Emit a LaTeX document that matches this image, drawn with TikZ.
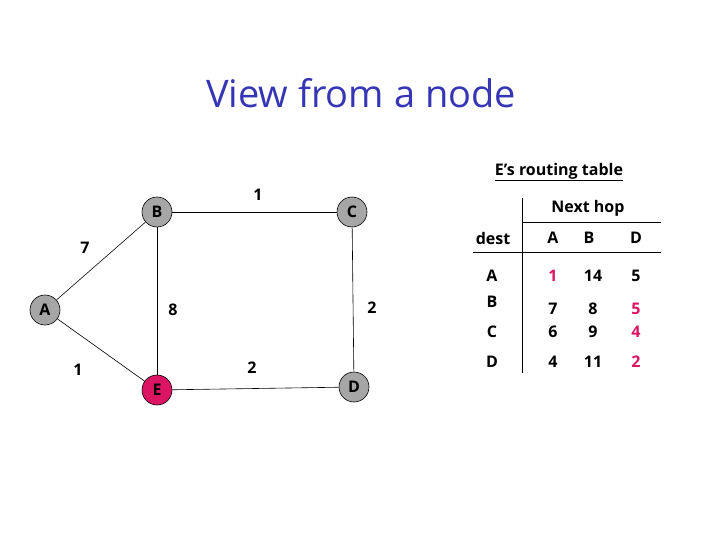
\documentclass[tikz,border=0pt]{standalone}
\usepackage{fontspec}
\setmainfont{Open Sans}
\begin{document}
\begin{tikzpicture}[x=1pt,y=-1pt,
  vert/.style={circle,draw=black,line width=0.6pt,fill=nodegrey,minimum size=30pt,inner sep=0pt,font=\fontsize{16}{18}\selectfont\bfseries},
  wlab/.style={font=\fontsize{16}{18}\selectfont\bfseries},
  tab/.style={font=\fontsize{16}{18}\selectfont\bfseries,anchor=center},
  hot/.style={tab,text=hotred},
  link/.style={line width=0.6pt}]
\definecolor{nodegrey}{HTML}{A6A6A6}
\definecolor{hotred}{HTML}{DC1464}
\definecolor{titleblue}{HTML}{3535B5}
\useasboundingbox (0,0) rectangle (720,540);
\node[text=titleblue,font=\fontsize{38}{44}\selectfont] (title) at (361,93) {View from a node};
% graph
\node[vert] (B) at (157,212) {B};
\node[vert] (C) at (352,212) {C};
\node[vert] (A) at (45,310) {A};
\node[vert,fill=hotred] (E) at (157,390) {E};
\node[vert] (D) at (354,387) {D};
\draw[link] (B) -- (C);
\draw[link] (C) -- (D);
\draw[link] (A) -- (B);
\draw[link] (A) -- (E);
\draw[link] (B) -- (E);
\draw[link] (E) -- (D);
\node[wlab] (w1) at (258,195) {1};
\node[wlab] (w7) at (85,248) {7};
\node[wlab] (w8) at (173,310) {8};
\node[wlab] (w2r) at (372,308) {2};
\node[wlab] (w1b) at (78,370) {1};
\node[wlab] (w2b) at (252,368) {2};
% table
\node[tab] (ttl) at (559,172) {\underline{E’s routing table}};
\node[tab] (nh) at (588,208) {Next hop};
\coordinate (vt) at (522,198);
\coordinate (vb) at (522,373);
\coordinate (h1l) at (522,222);
\coordinate (h1r) at (661,222);
\coordinate (h2l) at (473,252);
\coordinate (h2r) at (661,252);
\draw[link] (vt) -- (vb);
\draw[link] (h1l) -- (h1r);
\draw[link] (h2l) -- (h2r);
\node[tab] (dest) at (493,238) {dest};
\node[tab] (hA) at (553,238) {A};
\node[tab] (hB) at (589,238) {B};
\node[tab] (hD) at (636,238) {D};
\node[tab] (rA) at (492,276) {A};
\node[tab] (rB) at (492,302) {B};
\node[tab] (rC) at (492,332) {C};
\node[tab] (rD) at (492,362) {D};
\node[hot] (aA) at (553,276) {1};
\node[tab] (aB) at (593,276) {14};
\node[tab] (aD) at (636,276) {5};
\node[tab] (bA) at (553,309) {7};
\node[tab] (bB) at (593,309) {8};
\node[hot] (bD) at (636,309) {5};
\node[tab] (cA) at (553,332) {6};
\node[tab] (cB) at (593,332) {9};
\node[hot] (cD) at (636,332) {4};
\node[tab] (dA) at (553,362) {4};
\node[tab] (dB) at (593,362) {11};
\node[hot] (dD) at (636,362) {2};
\end{tikzpicture}
\end{document}
